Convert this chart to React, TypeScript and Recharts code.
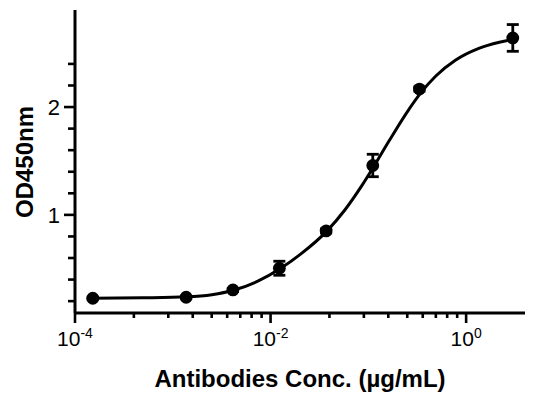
import React from 'react';
import { ComposedChart, XAxis, YAxis, Scatter, Line, ErrorBar } from 'recharts';

const concentrations = [0.000152, 0.00137, 0.00412, 0.0123, 0.037, 0.111, 0.333, 3];
const odMeans = [0.227, 0.236, 0.304, 0.505, 0.851, 1.458, 2.167, 2.641];
const odErrors = [0.01, 0.01, 0.015, 0.065, 0.02, 0.104, 0.02, 0.124];

const curveConc = [0.00015, 0.000501, 0.00138, 0.00251, 0.00417, 0.00741, 0.0126, 0.0209, 0.0372, 0.0575, 0.0851, 0.1148, 0.162, 0.257, 0.347, 0.49, 0.776, 1.349, 2.188, 3.236];
const curveOD = [0.227, 0.231, 0.24, 0.26, 0.301, 0.385, 0.502, 0.645, 0.845, 1.045, 1.266, 1.455, 1.682, 1.972, 2.136, 2.288, 2.434, 2.544, 2.601, 2.632];

const xMajorTicks = [0.0001, 0.01, 1];
const xMajorExponents = ['-4', '-2', '0'];
const xMinorTicks = [0.0004, 0.0009, 0.0016, 0.0025, 0.0036, 0.0049, 0.0064, 0.0081, 0.04, 0.09, 0.16, 0.25, 0.36, 0.49, 0.64, 0.81];
const yMajorTicks = [1, 2];
const yMajorLabels = ['1', '2'];
const yMinorTicks = [0.2, 0.4, 0.6, 0.8, 1.2, 1.4, 1.6, 1.8, 2.2, 2.4];

const xLabel = 'Antibodies Conc. (µg/mL)';
const yLabel = 'OD450nm';

const FONT = '"Liberation Sans", Arial, Helvetica, sans-serif';

const points = concentrations.map((x, i) => ({ x, y: odMeans[i], err: odErrors[i] }));
const curve = curveConc.map((x, i) => ({ x, y: curveOD[i] }));

const XTick = (props: any) => {
  const { x, y, payload } = props;
  const v = payload.value;
  const mi = xMajorTicks.findIndex((t) => Math.abs(t - v) / t < 1e-6);
  const major = mi >= 0;
  return (
    <g>
      <line x1={x} x2={x} y1={y} y2={y + (major ? 10 : 5)} stroke="#000" strokeWidth={2.6} />
      {major && (
        <text x={x} y={y + 33} textAnchor="middle" fontFamily={FONT} fontSize={21} fill="#000">
          <tspan>10</tspan>
          <tspan dy={-8} fontSize={14}>{xMajorExponents[mi]}</tspan>
        </text>
      )}
    </g>
  );
};

const YTick = (props: any) => {
  const { x, y, payload } = props;
  const v = payload.value;
  const mi = yMajorTicks.findIndex((t) => Math.abs(t - v) < 1e-6);
  const major = mi >= 0;
  return (
    <g>
      <line x1={x - (major ? 11 : 7)} x2={x} y1={y} y2={y} stroke="#000" strokeWidth={2.6} />
      {major && (
        <text x={x - 15} y={y} dy="0.36em" textAnchor="end" fontFamily={FONT} fontSize={22} fill="#000">
          {yMajorLabels[mi]}
        </text>
      )}
    </g>
  );
};

const Dot = (props: any) => {
  const { cx, cy } = props;
  return <circle cx={cx} cy={cy} r={6.4} fill="#000" />;
};

export default function App() {
  return (
    <div style={{ position: 'absolute', left: 0, top: 0 }}>
      <ComposedChart width={543} height={400} margin={{ top: 10, right: 18, bottom: 7, left: 0 }}>
        <XAxis
          dataKey="x"
          type="number"
          scale="log"
          domain={[0.0001, 4]}
          allowDataOverflow
          ticks={[...xMajorTicks, ...xMinorTicks]}
          interval={0}
          tickSize={0}
          tickMargin={0}
          tickLine={false}
          tick={XTick}
          axisLine={{ stroke: '#000', strokeWidth: 3 }}
          height={80}
        />
        <YAxis
          dataKey="y"
          type="number"
          domain={[0.09, 2.9]}
          allowDataOverflow
          ticks={[...yMajorTicks, ...yMinorTicks]}
          interval={0}
          tickSize={0}
          tickMargin={0}
          tickLine={false}
          tick={YTick}
          axisLine={{ stroke: '#000', strokeWidth: 3 }}
          width={75}
        />
        <Line
          data={curve}
          dataKey="y"
          type="monotone"
          stroke="#000"
          strokeWidth={3}
          dot={false}
          activeDot={false}
          isAnimationActive={false}
        />
        <Scatter data={points} dataKey="y" fill="#000" shape={Dot} isAnimationActive={false}>
          <ErrorBar dataKey="err" direction="y" width={6} stroke="#000" strokeWidth={2.8} isAnimationActive={false} />
        </Scatter>
        <text x={300} y={387} textAnchor="middle" fontFamily={FONT} fontSize={24} fontWeight="bold" fill="#000">
          {xLabel}
        </text>
        <text
          x={24}
          y={162}
          dy="0.36em"
          textAnchor="middle"
          fontFamily={FONT}
          fontSize={24}
          fontWeight="bold"
          fill="#000"
          transform="rotate(-90 24 162)"
        >
          {yLabel}
        </text>
      </ComposedChart>
    </div>
  );
}
